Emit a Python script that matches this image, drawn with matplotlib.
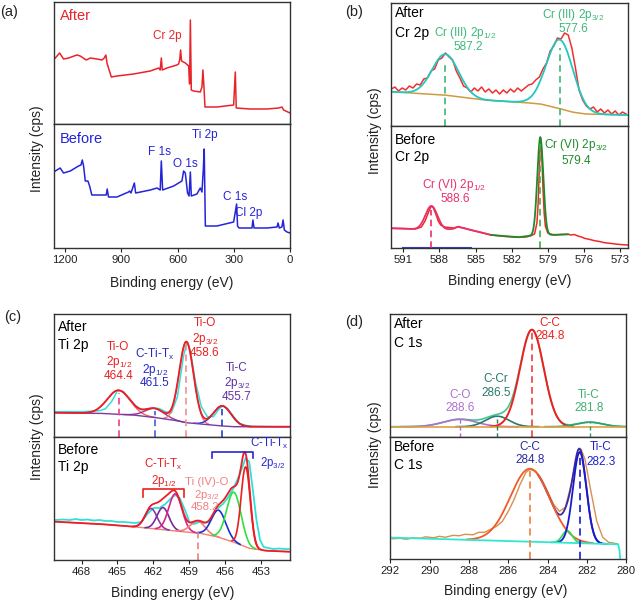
import numpy as np
import matplotlib
matplotlib.use('Agg')
import matplotlib.pyplot as plt
from matplotlib.lines import Line2D

plt.rcParams['font.family'] = ['Liberation Sans', 'DejaVu Sans']
plt.rcParams['mathtext.fontset'] = 'custom'
plt.rcParams['mathtext.rm'] = 'Liberation Sans'
plt.rcParams['mathtext.it'] = 'Liberation Sans'
plt.rcParams['mathtext.bf'] = 'Liberation Sans:bold'

# ---------------- data ----------------
# (a) survey spectra (binding energy eV, intensity a.u.)
a_after_ev = [1253, 1230, 1209, 1182, 1138, 1120, 1088, 1066, 1031, 1004, 992, 983, 977, 969, 954,
              924, 835, 746, 701, 693, 687, 682, 657, 604, 595, 589, 584, 579, 559, 541, 536, 532,
              527, 515, 479, 470, 465, 459, 454, 390, 301, 292, 287, 212, 123, 61, 43, 34, 0]
a_after_int = [66, 71, 65, 66, 69, 68, 64, 66, 65, 64, 66, 69, 61, 56, 47,
               48, 50, 53, 56, 54, 66, 54, 56, 59, 60, 64, 74, 63, 61, 58, 40, 104,
               34, 33, 32, 37, 54, 36, 17, 17, 19, 52, 16, 15, 15, 16, 17, 14, 11]
a_before_ev = [1253, 1227, 1209, 1173, 1129, 1116, 1109, 1102, 1093, 1079, 1070, 1058, 1031, 981, 976,
               969, 924, 862, 856, 849, 831, 824, 746, 710, 693, 687, 680, 621, 577, 568, 559, 547,
               539, 532, 527, 497, 479, 470, 463, 458, 452, 390, 301, 285, 280, 272, 203, 198, 192,
               123, 69, 64, 57, 43, 37, 30, 16, 0]
a_before_int = [77, 80, 75, 77, 82, 83, 88, 82, 67, 67, 62, 53, 53, 53, 59,
                51, 51, 56, 57, 55, 65, 55, 58, 60, 58, 87, 58, 62, 67, 77, 75, 55,
                52, 76, 52, 54, 60, 56, 78, 99, 22, 22, 26, 44, 22, 20, 20, 28, 20,
                20, 21, 25, 20, 21, 28, 18, 16, 15]

# (b) Cr 2p
b_after_ev = [592.0, 591.7, 591.4, 591.1, 590.8, 590.5, 590.2, 589.9, 589.6, 589.3, 589.0, 588.7,
              588.4, 588.1, 587.8, 587.5, 587.2, 586.9, 586.6, 586.3, 586.0, 585.7, 585.4, 585.1,
              584.8, 584.5, 584.2, 583.9, 583.6, 583.3, 583.0, 582.7, 582.4, 582.1, 581.8, 581.5,
              581.2, 580.9, 580.6, 580.3, 580.0, 579.7, 579.4, 579.1, 578.8, 578.5, 578.2, 577.9,
              577.6, 577.3, 577.0, 576.7, 576.4, 576.1, 575.8, 575.5, 575.2, 574.9, 574.6, 574.3,
              574.0, 573.7, 573.4, 573.1, 572.8, 572.5]
b_after_int = [37, 39, 35, 38, 36, 40, 38, 42, 41, 47, 48, 55,
               57, 66, 68, 73, 69, 66, 55, 48, 40, 38, 34, 38,
               35, 39, 34, 37, 33, 36, 32, 36, 33, 37, 34, 38,
               35, 38, 41, 42, 46, 49, 57, 63, 75, 80, 88, 87,
               93, 91, 78, 58, 36, 26, 20, 17, 19, 14, 17, 13,
               16, 12, 15, 11, 14, 12]
b_after_bg_ev = [592.0, 589.8, 587.6, 584.3, 581.0, 579.6, 578.2, 577.0, 575.9, 572.4]
b_after_bg_int = [34.3, 32.5, 31.0, 26.0, 23.5, 22.0, 18.0, 14.0, 12.0, 11.0]
b_after_centers = [587.5, 578.0]
b_after_amps = [41, 69]
b_after_sigmas = [1.1, 1.1]

b_before_ev = [591.94, 591.0, 590.0, 589.5, 589.2, 589.0, 588.8, 588.67, 588.5, 588.3, 588.1, 587.9,
               587.6, 587.2, 586.8, 586.4, 586.2, 585.9, 585.4, 584.8, 584.2, 583.7, 582.5, 581.5,
               580.8, 580.4, 580.1, 579.9, 579.8, 579.7, 579.62, 579.5, 579.4, 579.3, 579.2, 579.0,
               578.5, 577.8, 577.3, 577.06, 576.8, 576.5, 576.2, 575.95, 575.5, 575.12, 574.7,
               574.29, 573.7, 573.18, 572.8, 572.38]
b_before_int = [19.7, 19.5, 19, 21, 27, 33, 39, 42, 40, 34, 27, 23,
                21, 20.5, 20, 21.5, 20.5, 19.7, 18, 16.3, 14.5, 13, 11.5, 10.7,
                11, 12.3, 14, 25, 45, 80, 111, 95, 60, 35, 22, 15,
                13, 13.5, 13.7, 13, 13.5, 12, 11, 9.7, 8.5, 7.3, 6.5,
                5.3, 4.5, 3.7, 3.3, 3]
b_before_bg_ev = [591.94, 589.79, 587.57, 586.9, 586.47, 586.2, 585.91, 584.8, 583.7, 582.5,
                  581.48, 580.38, 579.0, 577.33]
b_before_bg_int = [19.7, 18.7, 18.0, 19.0, 21.3, 20.5, 19.7, 16.3, 13.0, 11.8, 10.7, 12.3, 13.0, 13.7]
b_before_centers = [588.67, 579.62]
b_before_amps = [23.7, 98]
b_before_sigmas = [0.5, 0.25]

# (c) Ti 2p
c_after_bg_ev = [470.2, 466.5, 463.7, 462.0, 460.4, 459.25, 458.1, 457.0, 455.4, 450.7]
c_after_bg_int = [24, 23.4, 21.7, 19.4, 16.7, 14, 12.7, 11.4, 10, 10]
c_after_centers = [464.9, 461.9, 459.25, 456.25]
c_after_amps = [24, 9, 81, 20]
c_after_sigmas = [0.95, 0.8, 0.6, 0.75]
c_after_data_ev = [470.2, 468, 466.5, 466, 465.5, 465, 464.5, 464, 463.5, 463, 462.5, 462, 461.5, 461,
                   460.5, 460, 459.5, 459.2, 458.9, 458.5, 458, 457.5, 457, 456.5, 456.2, 455.8,
                   455.3, 454.8, 454, 452, 450.7]
c_after_data_int = [25, 25, 26, 28, 35, 46, 45, 38, 31, 27, 27, 29, 28, 25,
                    24, 40, 80, 95, 85, 55, 30, 20, 20, 28, 31, 28,
                    20, 13, 10.5, 10, 10]

c_before_bg_ev = [470.2, 466.5, 463.7, 460.9, 458.1, 456.7, 455.4, 454.0, 452.6, 450.7]
c_before_bg_int = [38.3, 36, 33.3, 30, 26.7, 23.3, 18.3, 11.7, 9.3, 8.3]
c_before_centers = [462.2, 461.2, 460.17, 458.3, 456.56, 455.28, 454.3]
c_before_amps = [20, 22, 37, 12, 27, 50, 80]
c_before_sigmas = [0.5, 0.5, 0.55, 0.6, 0.6, 0.6, 0.38]
c_before_colors = ['#8a3aa8', '#7a2a9a', '#e0208a', '#f08080', '#2030d0', '#30e040', '#e82020']
c_before_data_ev = [470.2, 469.5, 469, 468.5, 468, 467.5, 467, 466.5, 466, 465.5, 465, 464.5, 464,
                    463.5, 463, 462.5, 462, 461.5, 461, 460.5, 460.2, 459.8, 459.3, 459, 458.6,
                    458.2, 457.8, 457.4, 457, 456.6, 456.2, 455.8, 455.4, 455, 454.6, 454.3, 454.0,
                    453.7, 453.4, 453.1, 452.8, 452.4, 452, 451.5, 451, 450.7]
c_before_data_int = [40, 40.5, 40, 41, 40, 40.5, 39.5, 40, 39, 39, 38, 38, 37.5,
                     37, 38, 46, 52, 52, 56, 62, 65, 62, 48, 38, 36,
                     38, 37, 38, 45, 52, 56, 62, 70, 80, 92, 102, 98,
                     70, 40, 20, 13, 12, 11, 11.5, 11, 11]

# (d) C 1s
d_after_bg_ev = [292.0, 280.0]
d_after_bg_int = [10, 10]
d_after_centers = [288.47, 286.56, 284.8, 281.86]
d_after_amps = [7.4, 10.5, 97, 4.5]
d_after_sigmas = [0.85, 0.6, 0.6, 0.65]

d_before_bg_ev = [291.95, 280.42, 280.35, 280.3]
d_before_bg_int = [21.7, 15.0, 10.0, -2.0]
d_before_centers = [284.9, 283.0, 282.37]
d_before_amps = [73, 12, 91]
d_before_sigmas = [1.0, 0.25, 0.34]
d_before_data_ev = [291.9, 291.5, 291.2, 290.8, 290.5, 290.2, 289.8, 289.5, 289.2, 288.8, 288.5,
                    288.2, 287.8, 287.5, 287.2, 286.9, 286.6, 286.3, 286.0, 285.7, 285.4, 285.1,
                    284.9, 284.6, 284.3, 284.0, 283.7, 283.4, 283.1, 282.8, 282.5, 282.3, 282.1,
                    281.8, 281.5, 281.2, 280.9, 280.6, 280.45]
d_before_data_int = [20.5, 21, 20, 21.5, 21, 22.5, 21.5, 23, 22, 24, 23.5,
                     25, 24.5, 27, 27, 30, 33, 38, 48, 60, 75, 87,
                     90, 88, 80, 68, 55, 48, 52, 75, 104, 110, 100,
                     68, 38, 22, 17, 16, 15.5]

# ---------------- figure ----------------
W, H = 637, 605
fig = plt.figure(figsize=(W / 100, H / 100), dpi=100)


def rect(l, r, t, b):
    return [l / W, 1 - b / H, (r - l) / W, (b - t) / H]


def ftext(px, py, s, color='black', size=8.5, ha='center', va='center', **kw):
    fig.text(px / W, 1 - py / H, s, color=color, fontsize=size, ha=ha, va=va, **kw)


def fline(xs, ys, color, lw=1.2):
    fig.add_artist(Line2D([x / W for x in xs], [1 - y / H for y in ys], color=color, lw=lw))


def gauss(x, c, a, s):
    return a * np.exp(-(x - c) ** 2 / (2 * s * s))


def style(ax, xlim, ylim, bottom):
    ax.set_xlim(*xlim)
    ax.set_ylim(*ylim)
    ax.set_yticks([])
    for sp in ax.spines.values():
        sp.set_linewidth(1.0)
        sp.set_color('#333333')
    if bottom:
        ax.tick_params(axis='x', direction='out', length=3, width=0.8, labelsize=8.2, pad=2,
                       colors='#222222')
    else:
        ax.set_xticks([])


RED = '#e8242a'
BLUE = '#2424d8'
lw = 1.1

# ----- (a) -----
axa1 = fig.add_axes(rect(54, 290, 2, 124))
axa2 = fig.add_axes(rect(54, 290, 124, 248))
axa1.plot(a_after_ev, a_after_int, color=RED, lw=lw)
axa2.plot(a_before_ev, a_before_int, color=BLUE, lw=lw)
style(axa1, (1260, 0), (0, 122), False)
style(axa2, (1260, 0), (0, 124), True)
axa2.set_xticks([1200, 900, 600, 300, 0])
ftext(60, 16, 'After', RED, 10.5, ha='left')
ftext(167, 36, 'Cr 2p', RED, 8.5)
ftext(60, 139, 'Before', BLUE, 10.5, ha='left')
ftext(160, 152, 'F 1s', BLUE, 8.5)
ftext(185, 164, 'O 1s', BLUE, 8.5)
ftext(205, 135, 'Ti 2p', BLUE, 8.5)
ftext(235, 197, 'C 1s', BLUE, 8.5)
ftext(249, 213, 'Cl 2p', BLUE, 8.5)
ftext(37, 149, 'Intensity (cps)', '#222222', 10, rotation=90)
ftext(172, 283, 'Binding energy (eV)', '#222222', 10)
ftext(0, 12, '(a)', '#222222', 10.5, ha='left')

# ----- (b) -----
xb = (592.05, 572.36)
axb1 = fig.add_axes(rect(390.7, 627.7, 3, 126))
axb2 = fig.add_axes(rect(390.7, 627.7, 126, 248))
grid = np.linspace(592.0, 572.4, 600)
bgb = np.interp(grid[::-1], b_after_bg_ev[::-1], b_after_bg_int[::-1])[::-1]
envb = bgb.copy()
for c, a, s in zip(b_after_centers, b_after_amps, b_after_sigmas):
    envb += gauss(grid, c, a, s)
axb1.plot(b_after_ev, b_after_int, color='#f03030', lw=lw)
axb1.plot(grid, bgb, color='#d09a40', lw=lw)
axb1.plot(grid, envb, color='#20c8c0', lw=1.3)
GREEN_L = '#3cb87a'
for c, a in zip(b_after_centers, b_after_amps):
    top = np.interp(-c, -grid, envb)
    axb1.vlines(c, 0, top - 8, colors=GREEN_L, linestyles=(0, (4, 2.5)), lw=1.2)
style(axb1, xb, (0, 123), False)

gb2 = np.linspace(591.94, 577.33, 600)
bgb2 = np.interp(gb2[::-1], b_before_bg_ev[::-1], b_before_bg_int[::-1])[::-1]
pink = bgb2 + gauss(gb2, b_before_centers[0], b_before_amps[0], b_before_sigmas[0])
green = bgb2 + gauss(gb2, b_before_centers[1], b_before_amps[1], b_before_sigmas[1])
axb2.plot(b_before_ev, b_before_int, color='#f02828', lw=lw)
m1 = gb2 >= 583.7
axb2.plot(gb2[m1], pink[m1], color='#e8306a', lw=1.3)
axb2.plot(gb2[~m1], green[~m1], color='#1f8a2b', lw=1.3)
axb2.plot([591.0, 585.4], [0.4, 0.4], color='#3040e0', lw=1.5)
axb2.vlines(b_before_centers[0], 0, b_before_amps[0] + 14, colors='#e8306a',
            linestyles=(0, (4, 2.5)), lw=1.2)
axb2.vlines(b_before_centers[1], 0, b_before_amps[1] + 10, colors='#3cb040',
            linestyles=(0, (4, 2.5)), lw=1.2)
style(axb2, xb, (0, 122), True)
axb2.set_xticks([591, 588, 585, 582, 579, 576, 573])

ftext(395, 13, 'After', 'black', 10, ha='left')
ftext(395, 33, 'Cr 2p', 'black', 10, ha='left')
ftext(465, 33, 'Cr (III) 2p$_{1/2}$', GREEN_L, 8.5)
ftext(468, 47, '587.2', GREEN_L, 8.5)
ftext(573, 15, 'Cr (III) 2p$_{3/2}$', GREEN_L, 8.5)
ftext(573, 29, '577.6', GREEN_L, 8.5)
ftext(395, 140, 'Before', 'black', 10, ha='left')
ftext(395, 157, 'Cr 2p', 'black', 10, ha='left')
ftext(454, 185, 'Cr (VI) 2p$_{1/2}$', '#e8306a', 8.5)
ftext(455, 199, '588.6', '#e8306a', 8.5)
ftext(576, 145, 'Cr (VI) 2p$_{3/2}$', '#1f8a2b', 8.5)
ftext(576, 161, '579.4', '#1f8a2b', 8.5)
ftext(375, 131, 'Intensity (cps)', '#222222', 10, rotation=90)
ftext(510, 281, 'Binding energy (eV)', '#222222', 10)
ftext(345, 12, '(b)', '#222222', 10.5, ha='left')

# ----- (c) -----
xc = (470.3, 450.6)
axc1 = fig.add_axes(rect(54, 290, 314, 436.7))
axc2 = fig.add_axes(rect(54, 290, 436.7, 560))
gc = np.linspace(470.3, 450.6, 800)
bgc = np.interp(gc[::-1], c_after_bg_ev[::-1], c_after_bg_int[::-1])[::-1]
envc = bgc.copy()
for c, a, s in zip(c_after_centers, c_after_amps, c_after_sigmas):
    envc += gauss(gc, c, a, s)
axc1.plot(c_after_data_ev, c_after_data_int, color='#30e0d8', lw=lw)
c_after_colors = ['#f06060', '#a03090', '#f07070', '#2030d0']
for (c, a, s), col in zip(zip(c_after_centers, c_after_amps, c_after_sigmas), c_after_colors):
    comp = bgc + gauss(gc, c, a, s)
    m = np.abs(gc - c) < 3.2 * s
    axc1.plot(gc[m], comp[m], color=col, lw=1.0)
axc1.plot(gc, bgc, color='#7a3aa0', lw=1.0)
axc1.plot(gc, envc, color='#ee1c24', lw=1.3)
c_after_dash = ['#f04080', '#4060d8', '#f09090', '#2040d0']
for c, col in zip(c_after_centers, c_after_dash):
    top = np.interp(-c, -gc, envc)
    axc1.vlines(c, 0, top - 3, colors=col, linestyles=(0, (4, 2.5)), lw=1.2)
style(axc1, xc, (0, 122.7), False)

gc2 = gc
bgc2 = np.interp(gc2[::-1], c_before_bg_ev[::-1], c_before_bg_int[::-1])[::-1]
envc2 = bgc2.copy()
for c, a, s in zip(c_before_centers, c_before_amps, c_before_sigmas):
    envc2 += gauss(gc2, c, a, s)
axc2.plot(c_before_data_ev, c_before_data_int, color='#30e0d8', lw=1.3)
axc2.plot(gc2, bgc2, color='#f08070', lw=1.0)
for c, a, s, col in zip(c_before_centers, c_before_amps, c_before_sigmas, c_before_colors):
    comp = bgc2 + gauss(gc2, c, a, s)
    m = np.abs(gc2 - c) < 3.0 * s
    axc2.plot(gc2[m], comp[m], color=col, lw=1.2)
axc2.plot(gc2, envc2, color='#ee1c24', lw=1.3)
axc2.vlines(c_before_centers[3], 0, c_before_amps[3] + 20, colors='#f08080',
            linestyles=(0, (4, 2.5)), lw=1.2)
style(axc2, xc, (0, 123.3), True)
axc2.set_xticks([468, 465, 462, 459, 456, 453])

ftext(58, 327, 'After', 'black', 10, ha='left')
ftext(58, 345, 'Ti 2p', 'black', 10, ha='left')
ftext(118, 347, 'Ti-O', '#e82020', 8.5)
ftext(119, 362, '2p$_{1/2}$', '#e82020', 8.5)
ftext(119, 376, '464.4', '#e82020', 8.5)
ftext(155, 354, 'C-Ti-T$_x$', '#2828c0', 8.5)
ftext(155, 370.5, '2p$_{1/2}$', '#2828c0', 8.5)
ftext(155, 383, '461.5', '#2828c0', 8.5)
ftext(205, 323, 'Ti-O', '#e82020', 8.5)
ftext(205, 339, '2p$_{3/2}$', '#e82020', 8.5)
ftext(205, 353, '458.6', '#e82020', 8.5)
ftext(237, 368, 'Ti-C', '#6030a0', 8.5)
ftext(237, 383, '2p$_{3/2}$', '#6030a0', 8.5)
ftext(237, 397, '455.7', '#6030a0', 8.5)
ftext(58, 450, 'Before', 'black', 10, ha='left')
ftext(58, 467, 'Ti 2p', 'black', 10, ha='left')
ftext(163, 464.5, 'C-Ti-T$_x$', '#e82020', 8.3)
ftext(164, 481, '2p$_{1/2}$', '#e82020', 8.3)
ftext(207, 482, 'Ti (IV)-O', '#f08080', 8.2)
ftext(207, 494.5, '2p$_{3/2}$', '#f08080', 8.2)
ftext(205, 507, '458.2', '#f08080', 8.2)
ftext(269, 443, 'C-Ti-T$_x$', '#2828d0', 8.3)
ftext(273, 463, '2p$_{3/2}$', '#2828d0', 8.3)
fline([142.7, 142.7, 184.3, 184.3], [496.7, 489.3, 489.3, 496.7], '#e82020')
fline([211.7, 211.7, 253.3, 253.3], [458.3, 451.7, 451.7, 458.3], '#2828d0')
ftext(37, 437, 'Intensity (cps)', '#222222', 10, rotation=90)
ftext(173, 593, 'Binding energy (eV)', '#222222', 10)
ftext(4, 317, '(c)', '#222222', 10.5, ha='left')

# ----- (d) -----
xd = (292, 280)
axd1 = fig.add_axes(rect(390.3, 626.3, 314, 436.7))
axd2 = fig.add_axes(rect(390.3, 626.3, 436.7, 559.3))
gd = np.linspace(292, 280, 800)
bgd = np.interp(gd[::-1], d_after_bg_ev[::-1], d_after_bg_int[::-1])[::-1]
envd = bgd.copy()
for c, a, s in zip(d_after_centers, d_after_amps, d_after_sigmas):
    envd += gauss(gd, c, a, s)
d_after_colors = ['#b070d0', '#2a7a6a', '#f02020', '#30a070']
axd1.plot(gd, envd, color='#40c890', lw=1.2)
for c, a, s, col in zip(d_after_centers, d_after_amps, d_after_sigmas, d_after_colors):
    comp = bgd + gauss(gd, c, a, s)
    m = np.abs(gd - c) < 3.5 * s
    axd1.plot(gd[m], comp[m], color=col, lw=1.2 if col != '#f02020' else 1.4)
axd1.plot(gd, bgd, color='#e0a040', lw=1.2)
for c, a, col in zip(d_after_centers, d_after_amps, d_after_colors):
    if a > 50:
        axd1.vlines(c, 0, bgd[0] + a - 2, colors='#f04040', linestyles=(0, (4, 2.5)), lw=1.2)
    else:
        axd1.vlines(c, 0, bgd[0] + a, colors=col, linestyles=(0, (3, 2)), lw=1.0)
style(axd1, xd, (0, 122.7), False)

bgd2 = np.interp(gd[::-1], d_before_bg_ev[::-1], d_before_bg_int[::-1])[::-1]
gd_b = gd[gd >= 280.45]
bgd2b = bgd2[gd >= 280.45]
envd2 = bgd2b.copy()
for c, a, s in zip(d_before_centers, d_before_amps, d_before_sigmas):
    envd2 += gauss(gd_b, c, a, s)
axd2.plot(d_before_data_ev, d_before_data_int, color='#d89050', lw=1.0)
m = (gd_b < 284.5) & (gd_b > 281.0)
axd2.plot(gd_b[m], envd2[m], color='#3a2aa0', lw=1.3)
d_before_colors = ['#f05a28', '#30e060', '#1a1acc']
for c, a, s, col in zip(d_before_centers, d_before_amps, d_before_sigmas, d_before_colors):
    comp = bgd2b + gauss(gd_b, c, a, s)
    mm = np.abs(gd_b - c) < 3.2 * s
    axd2.plot(gd_b[mm], comp[mm], color=col, lw=1.3)
axd2.plot(d_before_bg_ev, d_before_bg_int, color='#30e8d0', lw=1.3)
axd2.vlines(d_before_centers[0], 0, 88, colors='#f08850', linestyles=(0, (4, 2.5)), lw=1.3)
axd2.vlines(d_before_centers[2], 0, 106, colors='#2a2ad8', linestyles=(0, (4, 2.5)), lw=1.3)
style(axd2, xd, (0, 122.6), True)
axd2.set_xticks([292, 290, 288, 286, 284, 282, 280])

ftext(394, 324, 'After', 'black', 10, ha='left')
ftext(394, 343, 'C 1s', 'black', 10, ha='left')
ftext(550, 323, 'C-C', '#f02020', 8.5)
ftext(550, 336, '284.8', '#f02020', 8.5)
ftext(496, 379, 'C-Cr', '#2a7a6a', 8.5)
ftext(496, 393, '286.5', '#2a7a6a', 8.5)
ftext(460, 395, 'C-O', '#b070d0', 8.5)
ftext(460, 408, '288.6', '#b070d0', 8.5)
ftext(589, 395, 'Ti-C', '#40b070', 8.5)
ftext(589, 408, '281.8', '#40b070', 8.5)
ftext(394, 447, 'Before', 'black', 10, ha='left')
ftext(394, 465, 'C 1s', 'black', 10, ha='left')
ftext(530, 447, 'C-C', '#2a2aa0', 8.5)
ftext(530, 460, '284.8', '#2a2aa0', 8.5)
ftext(601, 447, 'Ti-C', '#2020d0', 8.5)
ftext(601, 462, '282.3', '#2020d0', 8.5)
ftext(375, 445, 'Intensity (cps)', '#222222', 10, rotation=90)
ftext(506, 591, 'Binding energy (eV)', '#222222', 10)
ftext(345, 322, '(d)', '#222222', 10.5, ha='left')

fig.savefig('out.png', dpi=100)
